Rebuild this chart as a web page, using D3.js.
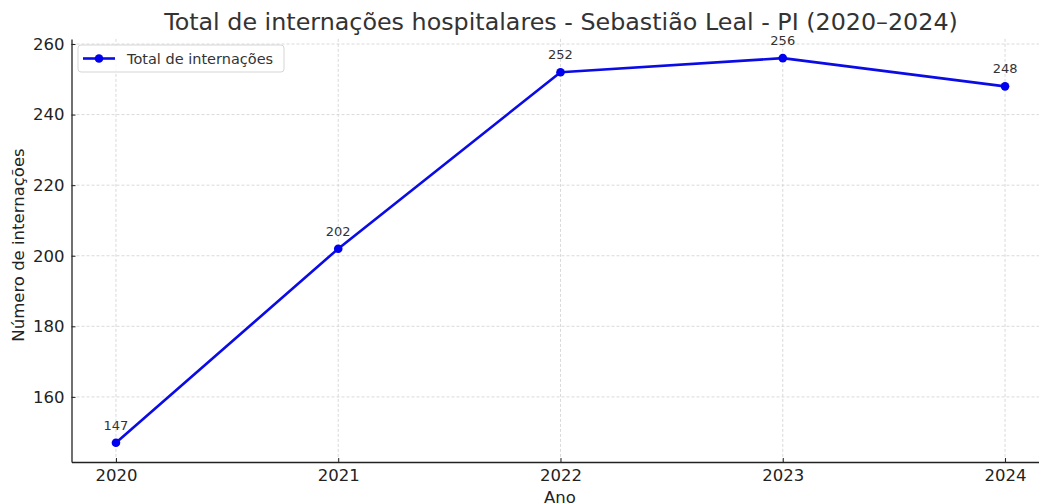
<!DOCTYPE html>
<html><head><meta charset="utf-8">
<script src="https://cdn.jsdelivr.net/npm/d3@7"></script>
<style>body{margin:0;background:#fff}svg{display:block}text{font-family:"DejaVu Sans",sans-serif}</style>
</head><body><svg id="c" width="1039" height="504"></svg>
<script>
const years = [2020, 2021, 2022, 2023, 2024];
const totals = [147, 202, 252, 256, 248];
const yTicks = [160, 180, 200, 220, 240, 260];
const title = "Total de internações hospitalares - Sebastião Leal - PI (2020–2024)";
const seriesName = "Total de internações";

const svg = d3.select("#c");
const L = 71.5, R = 1049.5, T = 38.9, B = 462;
const x = d3.scaleLinear().domain([2019.8, 2024.2]).range([L, R]);
const y = d3.scaleLinear().domain([141.55, 261.45]).range([B, T]);

// grid
const g = svg.append("g");
g.selectAll(".gx").data(years).enter().append("line")
  .attr("x1", d => x(d)).attr("x2", d => x(d)).attr("y1", T).attr("y2", B)
  .attr("stroke", "#d0d0d0").attr("stroke-width", 0.8).attr("stroke-dasharray", "3,2");
g.selectAll(".gy").data(yTicks).enter().append("line")
  .attr("x1", L).attr("x2", R).attr("y1", d => y(d)).attr("y2", d => y(d))
  .attr("stroke", "#d0d0d0").attr("stroke-width", 0.8).attr("stroke-dasharray", "3,2");

// axes
const xa = svg.append("g").attr("transform", `translate(0,${B})`)
  .call(d3.axisBottom(x).tickValues(years).tickFormat(d3.format("d")).tickSizeInner(-4).tickSizeOuter(0).tickPadding(7.5));
const ya = svg.append("g").attr("transform", `translate(${L},0)`)
  .call(d3.axisLeft(y).tickValues(yTicks).tickSizeInner(-4).tickSizeOuter(0).tickPadding(7));
[xa, ya].forEach(a => {
  a.select(".domain").attr("stroke", "#222").attr("stroke-width", 1.3);
  a.selectAll(".tick line").attr("stroke", "#222");
  a.selectAll(".tick text").attr("font-size", 16.5).attr("fill", "#222").attr("font-family", "DejaVu Sans");
});

// line
svg.append("path").datum(years.map((d, i) => [d, totals[i]]))
  .attr("d", d3.line().x(d => x(d[0])).y(d => y(d[1])))
  .attr("fill", "none").attr("stroke", "#0b0be6").attr("stroke-width", 2.6).attr("stroke-linejoin", "round");
svg.selectAll(".pt").data(years).enter().append("circle")
  .attr("cx", d => x(d)).attr("cy", (d, i) => y(totals[i])).attr("r", 4.3).attr("fill", "#0000f0");
svg.selectAll(".lab").data(years).enter().append("text")
  .attr("x", d => x(d)).attr("y", (d, i) => y(totals[i]) - 13)
  .attr("text-anchor", "middle").attr("font-size", 13).attr("fill", "#333")
  .text((d, i) => totals[i]);

// title & labels
svg.append("text").attr("x", 561).attr("y", 30).attr("text-anchor", "middle")
  .attr("font-size", 23.8).attr("fill", "#333").text(title);
svg.append("text").attr("x", 560).attr("y", 502.5).attr("text-anchor", "middle")
  .attr("font-size", 16.5).attr("fill", "#222").text("Ano");
svg.append("text").attr("transform", "translate(24,245) rotate(-90)").attr("text-anchor", "middle")
  .attr("font-size", 16.5).attr("fill", "#222").text("Número de internações");

// legend
const lg = svg.append("g").attr("transform", "translate(78,45)");
lg.append("rect").attr("width", 206).attr("height", 27).attr("rx", 3)
  .attr("fill", "#fff").attr("fill-opacity", 0.8).attr("stroke", "#d5d5d5");
lg.append("line").attr("x1", 5).attr("x2", 37).attr("y1", 13.5).attr("y2", 13.5)
  .attr("stroke", "#0b0be6").attr("stroke-width", 2.6);
lg.append("circle").attr("cx", 21).attr("cy", 13.5).attr("r", 4.3).attr("fill", "#0000f0");
lg.append("text").attr("x", 49).attr("y", 18.5).attr("font-size", 14.5).attr("fill", "#333").text(seriesName);
</script></body></html>
